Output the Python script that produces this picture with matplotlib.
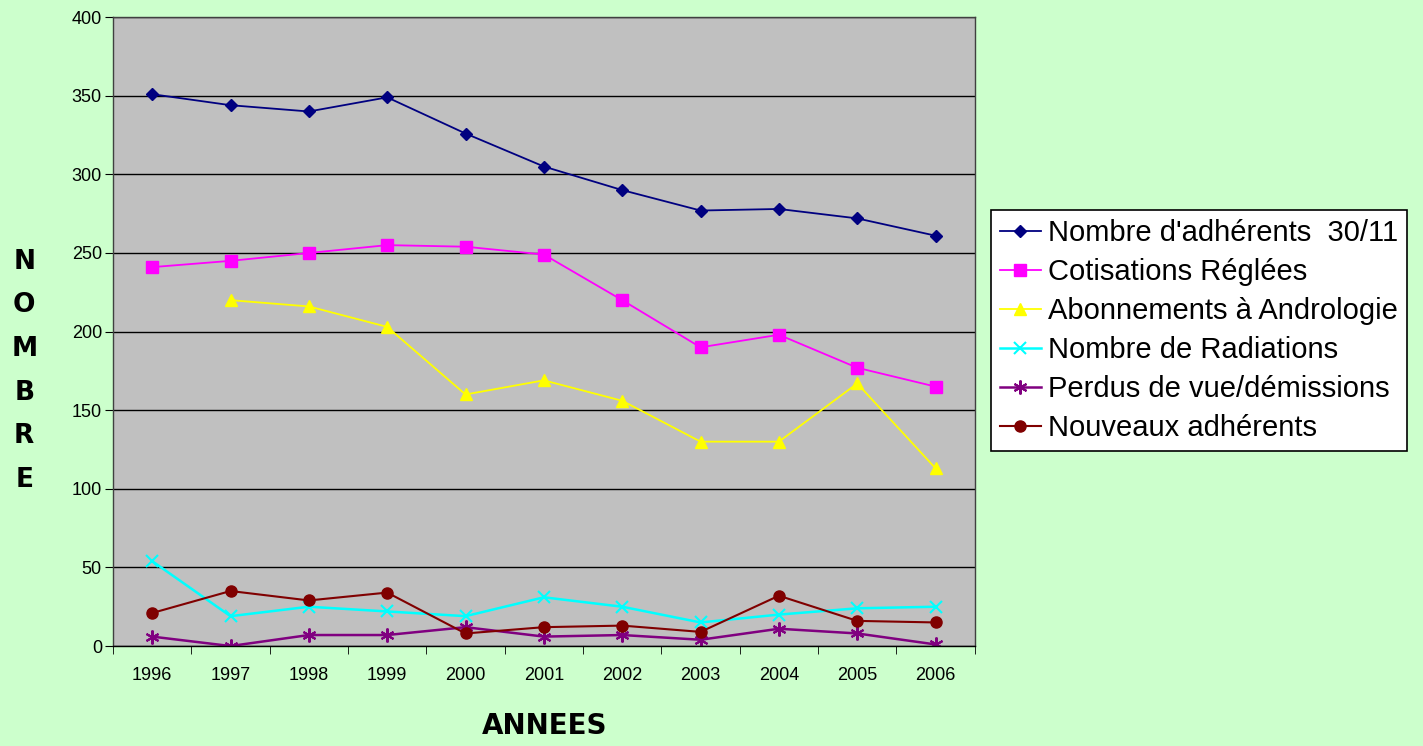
import numpy as np
import matplotlib.pyplot as plt
from matplotlib.ticker import FixedLocator

annees = ['1996', '1997', '1998', '1999', '2000', '2001', '2002', '2003', '2004', '2005', '2006']
adherents = [351, 344, 340, 349, 326, 305, 290, 277, 278, 272, 261]
cotisations = [241, 245, 250, 255, 254, 249, 220, 190, 198, 177, 165]
abonnements = [np.nan, 220, 216, 203, 160, 169, 156, 130, 130, 167, 113]
radiations = [54, 19, 25, 22, 19, 31, 25, 15, 20, 24, 25]
perdus = [6, 0, 7, 7, 12, 6, 7, 4, 11, 8, 1]
nouveaux = [21, 35, 29, 34, 8, 12, 13, 9, 32, 16, 15]

plt.rcParams['font.family'] = ['Liberation Sans', 'DejaVu Sans']

fig = plt.figure(figsize=(14.23, 7.46), dpi=100, facecolor='#CCFFCC')
ax = fig.add_axes([0.0794, 0.134, 0.6056, 0.843])
ax.set_facecolor('#C0C0C0')

x = np.arange(len(annees))
ax.plot(x, adherents, color='#000080', marker='D', ms=6, lw=1.3, label="Nombre d'adhérents  30/11")
ax.plot(x, cotisations, color='#FF00FF', marker='s', ms=8, lw=1.3, label='Cotisations Réglées')
ax.plot(x, abonnements, color='#FFFF00', marker='^', ms=9, lw=1.3, label='Abonnements à Andrologie')
ax.plot(x, radiations, color='#00FFFF', marker='x', ms=9, mew=1.5, lw=1.8, label='Nombre de Radiations')
ax.plot(x, perdus, color='#800080', marker=(6, 2, 0), ms=10, mew=1.5, lw=1.8, label='Perdus de vue/démissions')
ax.plot(x, nouveaux, color='#800000', marker='o', ms=8, lw=1.5, label='Nouveaux adhérents')

ax.set_xlim(-0.5, len(annees) - 0.5)
ax.set_ylim(0, 400)
ax.set_yticks(range(0, 401, 50))
ax.yaxis.grid(True, color='black', lw=1)
ax.set_axisbelow(True)

ax.set_xticks(x)
ax.set_xticklabels(annees)
ax.xaxis.set_minor_locator(FixedLocator(np.arange(-0.5, len(annees), 1)))
ax.tick_params(axis='x', which='major', length=0, pad=15, labelsize=13)
ax.tick_params(axis='x', which='minor', length=6, color='black')
ax.tick_params(axis='y', length=6, labelsize=13, pad=2)
for s in ax.spines.values():
    s.set_color('#404040')
    s.set_linewidth(1)
ax.spines['bottom'].set_color('black')

fig.text(0.383, 0.027, 'ANNEES', ha='center', va='center', fontsize=20, fontweight='bold',
         family='DejaVu Sans')
fig.text(0.017, 0.503, 'N\nO\nM\nB\nR\nE', ha='center', va='center', fontsize=19,
         fontweight='bold', family='DejaVu Sans', linespacing=1.88)

leg = fig.legend(loc='center left', bbox_to_anchor=(0.6964, 0.557), fontsize=21, frameon=True,
                 fancybox=False, edgecolor='black', facecolor='white', framealpha=1,
                 handlelength=1.4, handletextpad=0.25, labelspacing=0.38, borderpad=0.3,
                 borderaxespad=0)
leg.get_frame().set_linewidth(1.2)

fig.savefig('out.png', dpi=100, facecolor=fig.get_facecolor())
